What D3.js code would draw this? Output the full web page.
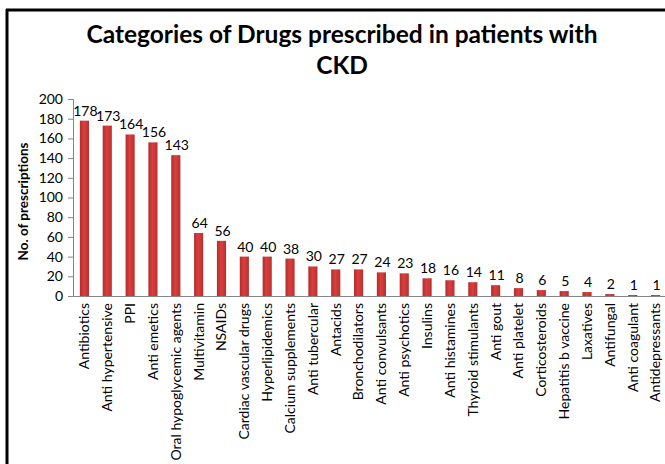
<!DOCTYPE html>
<html>
<head>
<meta charset="utf-8">
<script src="https://cdn.jsdelivr.net/npm/d3@7/dist/d3.min.js"></script>
<style>
  html, body { margin: 0; padding: 0; background: #fff; }
  svg { display: block; }
</style>
</head>
<body>
<svg id="chart" width="665" height="464"></svg>
<script>
// Drug categories and prescription counts
const categories = [
  "Antibiotics", "Anti hypertensive", "PPI", "Anti emetics", "Oral hypoglycemic agents",
  "Multivitamin", "NSAIDs", "Cardiac vascular drugs", "Hyperlipidemics", "Calcium supplements",
  "Anti tubercular", "Antacids", "Bronchodilators", "Anti convulsants", "Anti psychotics",
  "Insulins", "Anti histamines", "Thyroid stimulants", "Anti gout", "Anti platelet",
  "Corticosteroids", "Hepatitis b vaccine", "Laxatives", "Antifungal", "Anti coagulant",
  "Antidepressants"
];
const prescriptions = [178, 173, 164, 156, 143, 64, 56, 40, 40, 38, 30, 27, 27, 24, 23, 18, 16, 14, 11, 8, 6, 5, 4, 2, 1, 1];
const yTicks = [0, 20, 40, 60, 80, 100, 120, 140, 160, 180, 200];
const titleLines = ["Categories of Drugs prescribed in patients with", "CKD"];
const yTitle = "No. of prescriptions";

const svg = d3.select("#chart");
const font = "Lato, 'Open Sans', sans-serif";

// frame lines (left and top)
svg.append("line").attr("x1", 7).attr("x2", 7).attr("y1", 9).attr("y2", 464)
  .attr("stroke", "#000").attr("stroke-width", 3);
svg.append("line").attr("x1", 6).attr("x2", 665).attr("y1", 10).attr("y2", 10)
  .attr("stroke", "#000").attr("stroke-width", 3);

const margin = { left: 73, right: 667, top: 99, bottom: 296 };

const x = d3.scaleBand().domain(categories).range([margin.left, margin.right])
  .paddingInner(0.6).paddingOuter(0.3);
const y = d3.scaleLinear().domain([0, 200]).range([margin.bottom, margin.top]);

// bar gradient
const defs = svg.append("defs");
const grad = defs.append("linearGradient").attr("id", "barGrad")
  .attr("x1", 0).attr("x2", 1).attr("y1", 0).attr("y2", 0);
grad.append("stop").attr("offset", "0%").attr("stop-color", "#b52c2c");
grad.append("stop").attr("offset", "45%").attr("stop-color", "#d8403e");
grad.append("stop").attr("offset", "100%").attr("stop-color", "#b83030");

// title
svg.append("g").selectAll("text").data(titleLines).join("text")
  .attr("x", 342).attr("y", (d, i) => 43 + i * 31)
  .attr("text-anchor", "middle")
  .attr("font-family", font).attr("font-weight", "bold").attr("font-size", 24.5)
  .attr("fill", "#000").text(d => d);

// y axis
const yAxis = svg.append("g").attr("transform", `translate(${margin.left},0)`)
  .call(d3.axisLeft(y).tickValues(yTicks).tickSize(5).tickPadding(5));
yAxis.select(".domain").attr("stroke", "#868686");
yAxis.selectAll(".tick line").attr("stroke", "#868686");
yAxis.selectAll(".tick text").attr("font-family", font).attr("font-size", 14).attr("fill", "#000");

// y title
svg.append("text")
  .attr("transform", `translate(28,${(margin.top + margin.bottom) / 2 + 4}) rotate(-90)`)
  .attr("text-anchor", "middle").attr("font-family", font).attr("font-weight", "bold")
  .attr("font-size", 13.5).attr("fill", "#000").text(yTitle);

// bars
svg.append("g").selectAll("rect").data(categories).join("rect")
  .attr("x", d => x(d))
  .attr("width", x.bandwidth())
  .attr("y", (d, i) => y(prescriptions[i]))
  .attr("height", (d, i) => y(0) - y(prescriptions[i]))
  .attr("fill", "url(#barGrad)");

// value labels
svg.append("g").selectAll("text").data(categories).join("text")
  .attr("x", d => x(d) + x.bandwidth() / 2 + 1)
  .attr("y", (d, i) => y(prescriptions[i]) - 5)
  .attr("text-anchor", "middle").attr("font-family", font).attr("font-size", 14)
  .attr("fill", "#000").text((d, i) => prescriptions[i]);

// x axis
const xAxis = svg.append("g").attr("transform", `translate(0,${margin.bottom})`)
  .call(d3.axisBottom(x).tickSize(0).tickPadding(0));
xAxis.select(".domain").attr("stroke", "#868686");
xAxis.selectAll(".tick text")
  .attr("font-family", font).attr("font-size", 14).attr("fill", "#000")
  .attr("text-anchor", "end")
  .attr("dy", "0.35em")
  .attr("transform", "translate(0,7) rotate(-90)")
  .attr("x", 0).attr("y", 0);
</script>
</body>
</html>
